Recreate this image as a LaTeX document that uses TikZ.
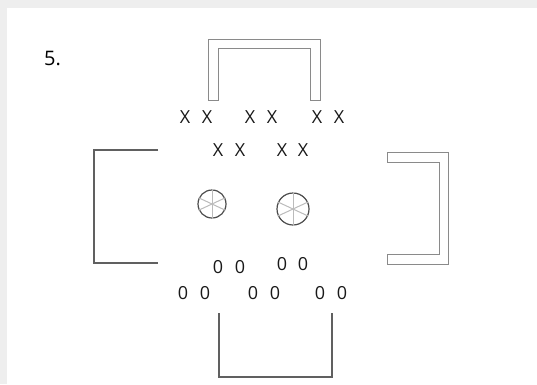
\documentclass[tikz,border=0pt]{standalone}
\usepackage{fontspec}
\setmainfont{Open Sans}
\definecolor{pagegrey}{HTML}{EEEEEE}
\definecolor{goalgrey}{HTML}{8A8A8A}
\definecolor{darkgoal}{HTML}{606060}
\definecolor{spokegrey}{HTML}{BBBBBB}
\begin{document}
\begin{tikzpicture}[
  x=1pt, y=-1pt,
  font=\fontsize{18}{20}\selectfont,
  player/.style={inner sep=0pt, text=black!90},
  goal/.style={draw=goalgrey, line width=1pt},
  opengoal/.style={draw=darkgoal, line width=1.3pt},
  ball/.style={circle, draw=black!70, line width=1.2pt, inner sep=0pt},
]
% page
\fill[pagegrey] (0,0) rectangle (537,384);
\fill[white] (7,8) rectangle (537,384);
\useasboundingbox (0,0) rectangle (537,384);
\node[anchor=west, inner sep=0pt, font=\fontsize{20}{22}\selectfont] (num) at (44,58) {5.};
% goals
\draw[goal] (208,100) -- (208,39) -- (320,39) -- (320,100) -- (310,100)
  -- (310,48) -- (218,48) -- (218,100) -- cycle;
\draw[goal] (387,152) -- (448,152) -- (448,264) -- (387,264) -- (387,254)
  -- (439,254) -- (439,162) -- (387,162) -- cycle;
\draw[opengoal] (158,150) -- (94,150) -- (94,263) -- (158,263);
\draw[opengoal] (219,313) -- (219,377) -- (332,377) -- (332,313);
% X team
\foreach \i/\px/\py in {1/185/117, 2/207/117, 3/250/117, 4/272/117,
  5/317/117, 6/339/117, 7/218/150, 8/240/150, 9/282/150, 10/303/150} {
  \node[player] (x\i) at (\px,\py) {X};
}
% O team
\foreach \i/\px/\py in {1/218/267, 2/240/267, 3/282/264, 4/303/264,
  5/183/293, 6/205/293, 7/253/293, 8/275/293, 9/320/293, 10/342/293} {
  \node[player] (o\i) at (\px,\py) {0};
}
% balls
\foreach \i/\px/\py/\r in {1/212/204/14, 2/293/209/16} {
  \node[ball, minimum size=2*\r pt] (ball\i) at (\px,\py) {};
  \foreach \a in {90, 25, 155}
    \draw[spokegrey, line width=1pt] (ball\i.\a) -- (ball\i.\a+180);
}
\end{tikzpicture}
\end{document}
